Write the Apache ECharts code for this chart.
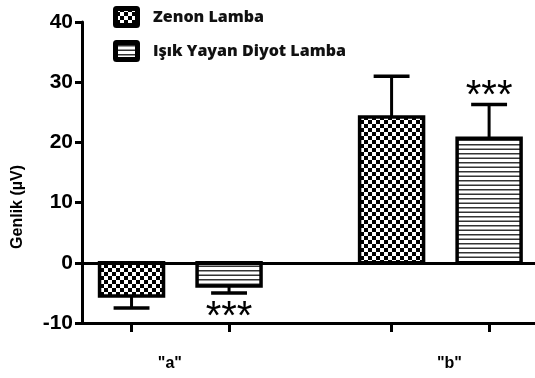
<!DOCTYPE html>
<html>
<head>
<meta charset="utf-8">
<script src="https://cdn.jsdelivr.net/npm/echarts@6/dist/echarts.min.js"></script>
<style>
  html, body { margin: 0; padding: 0; background: #fff; }
  #chart { width: 535px; height: 378px; }
</style>
</head>
<body>
<div id="chart"></div>
<script>
// Groups along the x axis
const groups = ['"a"', '"b"'];
// Series names
const seriesNames = ['Zenon Lamba', 'Işık Yayan Diyot Lamba'];
// Mean amplitude (µV) per group
const zenonValues = [-5.5, 24.2];
const ledValues = [-3.85, 20.7];
// Error (one-sided, away from zero)
const zenonErrors = [2.0, 6.8];
const ledErrors = [1.15, 5.6];
// Significance markers
const zenonSig = ['', ''];
const ledSig = ['***', '***'];
// Y axis ticks
const yTicks = [-10, 0, 10, 20, 30, 40];

// Layout of bars inside each group (x-axis units, one unit per group)
const barOffsets = [-0.1875, 0.1875];
const barWidth = 0.246;
const capWidth = 0.138;

// Fill patterns
function checkerPattern() {
  const c = document.createElement('canvas');
  c.width = 8; c.height = 8;
  const g = c.getContext('2d');
  g.fillStyle = '#fff'; g.fillRect(0, 0, 8, 8);
  g.fillStyle = '#000';
  g.fillRect(0, 0, 4, 4);
  g.fillRect(4, 4, 4, 4);
  return { image: c, repeat: 'repeat' };
}
function stripePattern() {
  const c = document.createElement('canvas');
  c.width = 8; c.height = 9;
  const g = c.getContext('2d');
  g.fillStyle = '#fff'; g.fillRect(0, 0, 8, 9);
  g.fillStyle = '#333';
  g.fillRect(0, 0, 8, 1.5);
  g.fillRect(0, 4.5, 8, 1.5);
  return { image: c, repeat: 'repeat' };
}
const fills = [checkerPattern(), stripePattern()];

function makeData(values, errors, sig) {
  return values.map((v, i) => [i, v, errors[i], sig[i]]);
}
const seriesData = [
  makeData(zenonValues, zenonErrors, zenonSig),
  makeData(ledValues, ledErrors, ledSig)
];

function makeRender(sIdx) {
  return function (params, api) {
    const gi = api.value(0);
    const v = api.value(1);
    const e = api.value(2);
    const sig = seriesData[sIdx][params.dataIndex][3];
    const cx = gi + barOffsets[sIdx];
    const base = api.coord([cx, 0]);
    const top = api.coord([cx, v]);
    const w = api.size([barWidth, 0])[0];
    const cw = api.size([capWidth, 0])[0];
    const dir = v >= 0 ? 1 : -1;
    const end = api.coord([cx, v + dir * e]);
    const children = [
      {
        type: 'line',
        shape: { x1: top[0], y1: top[1], x2: end[0], y2: end[1] },
        style: { stroke: '#000', lineWidth: 3 }
      },
      {
        type: 'line',
        shape: { x1: end[0] - cw / 2, y1: end[1], x2: end[0] + cw / 2, y2: end[1] },
        style: { stroke: '#000', lineWidth: 3.5 }
      },
      {
        type: 'rect',
        shape: {
          x: base[0] - w / 2,
          y: Math.min(base[1], top[1]),
          width: w,
          height: Math.abs(top[1] - base[1])
        },
        style: { fill: fills[sIdx], stroke: '#000', lineWidth: 3.5 }
      }
    ];
    if (sig) {
      children.push({
        type: 'text',
        style: {
          text: sig,
          x: end[0],
          y: dir > 0 ? end[1] - 8 : end[1] + 25,
          align: 'center',
          verticalAlign: 'middle',
          font: '40px "Liberation Sans", Arial, sans-serif',
          fill: '#000'
        }
      });
    }
    return { type: 'group', children: children };
  };
}

// Legend: patterned swatch followed by the series name
const legendItems = [];
seriesNames.forEach((n, i) => {
  const y = 6 + i * 34;
  legendItems.push({
    type: 'rect',
    shape: { x: 115.5, y: y + 2.5, width: 22, height: 17, r: 1 },
    style: { fill: fills[i], stroke: '#000', lineWidth: 5 }
  });
  legendItems.push({
    type: 'text',
    x: 153,
    y: y + 11.5,
    style: {
      text: n,
      font: '800 16px "Open Sans", sans-serif',
      fill: '#111',
      verticalAlign: 'middle'
    }
  });
});

const chart = echarts.init(document.getElementById('chart'));
chart.setOption({
  animation: false,
  backgroundColor: '#fff',
  grid: { left: 82, right: 0, top: 22, bottom: 55 },
  xAxis: {
    type: 'value',
    min: -0.378,
    max: 1.364,
    splitLine: { show: false },
    axisLine: { onZero: false, lineStyle: { color: '#000', width: 3 } },
    axisTick: {
      show: true,
      inside: false,
      length: 9,
      lineStyle: { color: '#000', width: 3 },
      customValues: groups.flatMap((g, i) => barOffsets.map(o => i + o))
    },
    axisLabel: {
      margin: 33,
      fontFamily: '"Liberation Sans", Arial, sans-serif',
      fontWeight: 'bold',
      fontSize: 16,
      color: '#000',
      customValues: [-0.04, 1.035],
      formatter: function (val) { return val < 0.5 ? groups[0] : groups[1]; }
    }
  },
  yAxis: {
    type: 'value',
    min: yTicks[0],
    max: yTicks[yTicks.length - 1],
    interval: 10,
    splitLine: { show: false },
    axisLine: { show: true, onZero: false, lineStyle: { color: '#000', width: 3 } },
    axisTick: { show: true, length: 7, lineStyle: { color: '#000', width: 3 } },
    axisLabel: {
      margin: 9,
      fontFamily: '"Liberation Sans", Arial, sans-serif',
      fontWeight: 'bold',
      fontSize: 21,
      color: '#000'
    }
  },
  graphic: [{
    type: 'text',
    left: 10,
    top: 165,
    rotation: Math.PI / 2,
    style: {
      text: 'Genlik (µV)',
      font: 'bold 16px "Liberation Sans", Arial, sans-serif',
      fill: '#000'
    }
  }].concat(legendItems),
  series: seriesNames.map((n, i) => ({
    type: 'custom',
    name: n,
    data: seriesData[i],
    encode: { x: 0, y: 1 },
    renderItem: makeRender(i),
    clip: false,
    markLine: i === 0 ? {
      silent: true,
      symbol: 'none',
      label: { show: false },
      lineStyle: { color: '#000', width: 3, type: 'solid' },
      data: [{ yAxis: 0 }]
    } : undefined
  }))
});
</script>
</body>
</html>
